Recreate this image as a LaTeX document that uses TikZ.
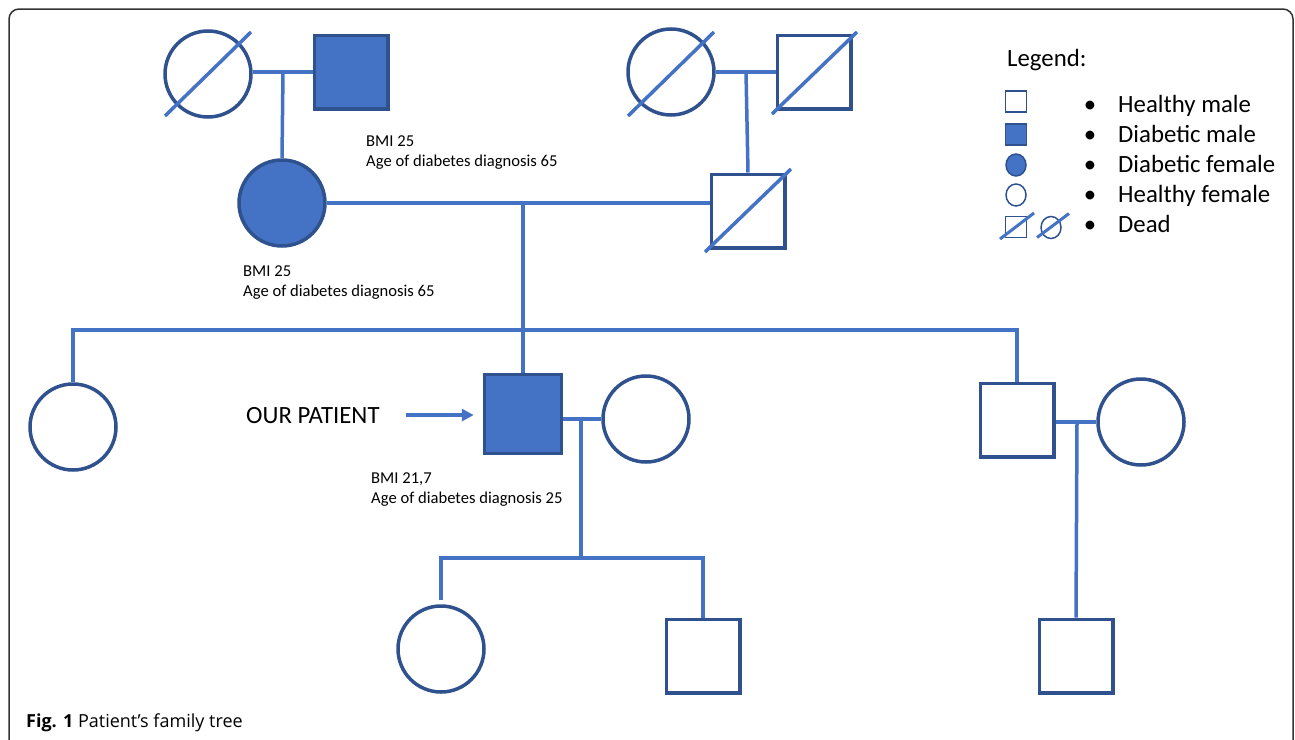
\documentclass[tikz,border=0pt]{standalone}
\usepackage{fontspec}
\setmainfont{Carlito}
\newfontfamily\capfont{Open Sans}
\usetikzlibrary{shapes.geometric,arrows.meta,calc}
\definecolor{lc}{HTML}{4472C4}
\definecolor{bc}{HTML}{2F528F}
\definecolor{fc}{HTML}{4472C4}
\definecolor{framec}{HTML}{333333}
\begin{document}
\begin{tikzpicture}[x=1pt,y=-1pt,
  male/.style={rectangle,draw=bc,line width=3.5pt,minimum size=73.5pt,inner sep=0pt},
  female/.style={circle,draw=bc,line width=3.5pt,minimum size=86pt,inner sep=0pt},
  affected/.style={fill=fc},
  conn/.style={draw=lc,line width=3.5pt},
  slash/.style={draw=lc,line width=3.5pt},
  lmale/.style={rectangle,draw=bc,line width=1.5pt,minimum size=21pt,inner sep=0pt},
  lfemale/.style={ellipse,draw=bc,line width=1.5pt,minimum width=20pt,minimum height=22pt,inner sep=0pt},
  lslash/.style={draw=lc,line width=3pt},
  small/.style={font=\fontsize{16.6}{20}\selectfont,align=left,anchor=north west,inner sep=0pt},
  big/.style={font=\fontsize{24.8}{28}\selectfont,inner sep=0pt,anchor=base west},
  bul/.style={font=\fontsize{24.8}{28}\selectfont,inner sep=0pt,anchor=base}]
\useasboundingbox (0,0) rectangle (1295,739);
\draw[framec,line width=1.5pt,rounded corners=10pt] (9,760) -- (9,9) -- (1293,9) -- (1293,760);

% generation I
\node[female] (gm1) at (208,74) {};
\node[male,affected] (gf1) at (351,72) {};
\node[female] (gm2) at (671,72) {};
\node[male] (gf2) at (814,72) {};
% generation II
\node[female,affected] (mo) at (282,203) {};
\node[male] (fa) at (748,211) {};
% generation III
\node[female] (al) at (73,427) {};
\node[male,affected,minimum width=77pt,minimum height=79pt] (pat) at (523,414) {};
\node[female] (wi) at (646,419) {};
\node[male] (un) at (1017,420) {};
\node[female] (aw) at (1141,422) {};
% generation IV
\node[female] (gc1) at (441,649) {};
\node[male] (gc2) at (703,656) {};
\node[male] (cs) at (1076,656) {};

% dead slashes
\draw[slash] ($(gm1.center)+(-43,42)$) -- ($(gm1.center)+(43,-42)$);
\draw[slash] ($(gm2.center)+(-43,44)$) -- ($(gm2.center)+(43,-40)$);
\draw[slash] ($(gf2.center)+(-42,42)$) -- ($(gf2.center)+(43,-40)$);
\draw[slash] ($(fa.center)+(-43,41)$) -- ($(fa.center)+(43,-42)$);

% junction coordinates
\coordinate (m1) at (283,72);
\coordinate (m2) at (523,203);
\coordinate (m3) at (746,72);
\coordinate (s1) at (523,330);
\coordinate (m4) at (581,420);
\coordinate (gs) at (581,558);
\coordinate (m5) at (1077,422);

% connectors
\draw[conn] (gf1.west -| gm1.east) -- (gf1.west);
\draw[conn] (m1) -- (mo.north);
\draw[conn] (gm2.east) -- (gm2.east -| gf2.west);
\draw[conn] (m3) -- (fa.north);
\draw[conn] (mo.east) -- (mo.east -| fa.west);
\draw[conn] (m2) -- (pat.north);
\draw[conn] (al.north) |- (s1) -| (un.north);
\draw[conn] (pat.east |- wi.west) -- (wi.west);
\draw[conn] (m4) -- (gs);
\draw[conn,shorten <=4pt] (gc1.north) |- (gs) -| (gc2.north);
\draw[conn] (un.east |- aw.west) -- (aw.west);
\draw[conn] (m5) -- (cs.north);

% labels
\node[small] (l1) at (366,136) {BMI 25\\Age of diabetes diagnosis 65};
\node[small] (l2) at (243,266) {BMI 25\\Age of diabetes diagnosis 65};
\node[small] (l3) at (371,473) {BMI 21,7\\Age of diabetes diagnosis 25};

\node[big] (ourp) at (246,423) {OUR PATIENT};
\draw[conn,-{Triangle[length=12pt,width=12pt]},shorten <=26pt,shorten >=9pt] (ourp.east) -- (ourp.east -| pat.west);

% legend
\node[big] (leg) at (1007,66) {Legend:};
\node[lmale] (lg1) at (1016,101.5) {};
\node[lmale,fill=fc] (lg2) at (1016,134.5) {};
\node[lfemale,fill=fc] (lg3) at (1016,165) {};
\node[lfemale] (lg4) at (1016,195) {};
\node[lmale] (lg5) at (1016,227) {};
\node[lfemale] (lg6) at (1051,227.5) {};
\draw[lslash] ($(lg5.center)+(-16,12)$) -- ($(lg5.center)+(18,-14)$);
\draw[lslash] ($(lg6.center)+(-14,10)$) -- ($(lg6.center)+(18,-14)$);

\node[bul] (b1) at (1090,112) {•};
\node[bul] (b2) at (1090,142) {•};
\node[bul] (b3) at (1090,172) {•};
\node[bul] (b4) at (1090,202) {•};
\node[bul] (b5) at (1090,232) {•};
\node[big] (t1) at (1118,112) {Healthy male};
\node[big] (t2) at (1118,142) {Diabetic male};
\node[big] (t3) at (1118,172) {Diabetic female};
\node[big] (t4) at (1118,202) {Healthy female};
\node[big] (t5) at (1118,232) {Dead};

% caption
\node[anchor=base west,inner sep=0pt,font=\capfont\fontsize{18}{21}\selectfont] (cap) at (26,727) {\textbf{Fig. 1} Patient’s family tree};
\end{tikzpicture}
\end{document}
